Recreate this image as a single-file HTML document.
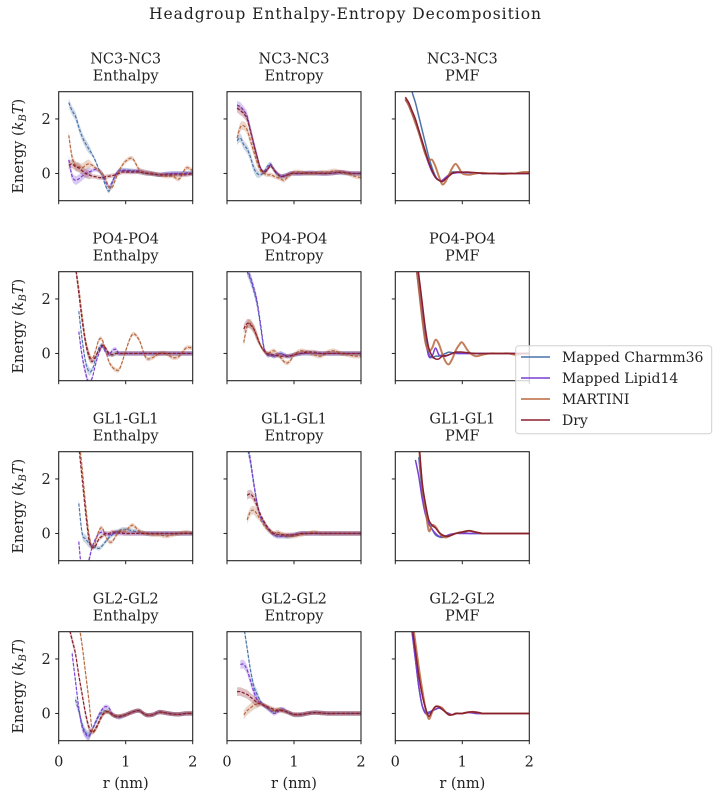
<!DOCTYPE html>
<html><head><meta charset="utf-8"><title>Headgroup Enthalpy-Entropy Decomposition</title>
<style>
html,body{margin:0;padding:0;background:#fff;}
svg{display:block;font-family:"DejaVu Serif","Liberation Serif",serif;}
</style></head>
<body>
<svg id="fig" width="722" height="799" viewBox="0 0 722 799" xmlns="http://www.w3.org/2000/svg">
<text x="345" y="19" text-anchor="middle" font-size="15.5" textLength="392" lengthAdjust="spacing" fill="#222">Headgroup Enthalpy-Entropy Decomposition</text>
</svg>
<script>
const n = null;
const R = [0.15,0.2,0.25,0.3,0.35,0.4,0.45,0.5,0.55,0.6,0.65,0.7,0.75,0.8,0.85,0.9,0.95,1.0,1.1,1.2,1.3,1.4,1.5,1.6,1.7,1.8,1.9,2.0];
const xTicks = [0,1,2];
const yTicks = [0,2];
const xTickLabels = ["0","1","2"];
const yTickLabels = ["0","2"];
const pairs = ["NC3-NC3","PO4-PO4","GL1-GL1","GL2-GL2"];
const kinds = ["Enthalpy","Entropy","PMF"];
const seriesNames = ["Mapped Charmm36","Mapped Lipid14","MARTINI","Dry"];

// NC3
const nc3H_C = [2.6,2.3,2.1,1.7,1.35,1.1,0.9,0.7,0.45,0.15,-0.1,-0.45,-0.65,-0.35,-0.05,0.1,0.12,0.12,0.1,0.05,0,-0.02,-0.05,-0.02,0,0,0.02,0];
const nc3H_L = [0.5,-0.1,-0.25,-0.2,-0.1,0,0.05,0.1,0.15,0.1,0,-0.3,-0.5,-0.3,-0.05,0.1,0.1,0.1,0.08,0.1,0.05,0,-0.05,-0.02,0,0,0,0];
const nc3H_M = [1.4,0.6,0.3,0.25,0.2,0.3,0.35,0.3,0.2,0.1,0,-0.2,-0.5,-0.5,-0.2,0.1,0.3,0.45,0.55,0.15,0.05,0,-0.05,-0.1,-0.1,-0.2,0.2,0.1];
const nc3H_D = [0.3,0.35,0.25,0.2,0.1,0,-0.05,-0.1,-0.12,-0.15,-0.15,-0.12,-0.1,-0.08,-0.05,0,0.05,0.05,0.05,0.05,0,-0.02,-0.05,-0.05,-0.05,-0.05,-0.05,0];
const nc3S_C = [1.2,1.3,1.05,0.9,0.6,0.2,0,-0.05,0.05,0.25,0.35,0.15,-0.05,-0.1,-0.08,-0.05,0,0,0,0,0,0,0,0.02,0.02,0,0,0];
const nc3S_L = [2.5,2.45,2.3,2.1,1.6,1.1,0.6,0.2,0.05,0.15,0.3,0.15,0,-0.1,-0.1,-0.05,0,0,0,0.02,0.02,0,0,0.02,0.05,0.02,0,0];
const nc3S_M = [1.3,1.7,1.75,1.6,1.2,0.8,0.4,0.1,0,-0.05,-0.05,-0.1,-0.15,-0.2,-0.25,-0.15,-0.05,0.05,0.05,0,0,0.05,0.05,0.1,0.05,0,-0.1,-0.15];
const nc3S_D = [2.4,2.3,2.2,2.0,1.55,1.05,0.6,0.2,0.05,0.12,0.28,0.12,0,-0.1,-0.1,-0.05,0,0,0,0.02,0.02,0,0,0.02,0.05,0.02,0,0];
const nc3P_C = [n,3.6,3.0,2.6,2.1,1.6,1.1,0.6,0.2,-0.1,-0.25,-0.3,-0.2,-0.05,0.05,0.05,0.05,0.05,0.03,0.02,0,0,0,0,0,0,0,0];
const nc3P_L = [2.7,2.5,2.2,1.9,1.5,1.1,0.7,0.35,0.05,-0.15,-0.25,-0.25,-0.15,-0.05,0,0.02,0.03,0.03,0.03,0.02,0,0,0,0,0,0,0,0];
const nc3P_M = [2.75,2.5,2.2,1.85,1.5,1.1,0.7,0.5,0.5,0.25,-0.1,-0.4,-0.3,-0.05,0.2,0.35,0.2,0,-0.05,0,0.02,0,0,-0.02,0,0,0.05,0.05];
const nc3P_D = [2.8,2.6,2.3,2.0,1.6,1.2,0.8,0.4,0.1,-0.15,-0.25,-0.3,-0.2,-0.1,0,0.05,0.05,0.05,0.05,0.03,0,0,0,0,0,0,0,0];
// PO4
const po4H_C = [n,n,n,1.55,0.5,-0.3,-0.65,-0.6,-0.2,0.2,0.3,0.1,0,-0.05,0,0,0,0,0,0,0,0,0,0,0,0,0,0];
const po4H_L = [n,n,n,0.8,-0.1,-0.7,-1.1,-0.9,-0.4,0,0.25,0.05,-0.05,0.1,0.15,0,0,0,0,0,0,0,0,0,0,0,0,0];
const po4H_M = [n,n,3.2,2.4,1.4,0.5,0,-0.2,0.1,0.5,0.5,0.1,-0.3,-0.5,-0.6,-0.6,-0.3,0.1,0.7,0.5,-0.15,-0.15,0,0,-0.15,-0.1,0.2,0.2];
const po4H_D = [n,n,3.2,2.2,1.2,0.4,-0.1,-0.3,-0.1,0.1,0.3,0.2,0,-0.05,0,0,0,0,0,0,0,0,0,0,0,0,0,0];
const po4S_C = [n,n,n,3.0,2.7,2.3,1.8,1.0,0.2,-0.05,-0.05,-0.1,-0.05,0,-0.05,-0.1,-0.1,-0.05,0,0,0,0,0,0,0,0,0,0];
const po4S_L = [n,n,n,3.1,2.8,2.4,1.9,1.1,0.25,-0.05,-0.05,-0.1,-0.05,0,-0.05,-0.1,-0.08,-0.05,0,0,0,0,0,0,0,0,0,0];
const po4S_M = [n,n,0.4,1.0,1.1,0.9,0.6,0.3,0.1,0,0.05,0.1,0,-0.15,-0.3,-0.35,-0.25,-0.05,0.1,0.05,-0.05,-0.1,0.05,0.1,0,-0.05,-0.1,-0.1];
const po4S_D = [n,n,0.9,1.1,1.05,0.9,0.6,0.3,0.1,0,-0.05,-0.05,-0.08,-0.1,-0.1,-0.1,-0.08,-0.05,0,0.05,0.05,0,0,0,0,0,0,0];
const po4P_C = [n,n,n,3.6,2.6,1.6,0.7,0,-0.15,-0.1,-0.1,-0.05,0,0.05,0.03,0.02,0,0,0,0,0,0,0,0,0,0,0,0];
const po4P_L = [n,n,n,3.4,2.4,1.4,0.5,-0.1,-0.1,0.2,-0.05,-0.1,-0.1,-0.05,0,0,0,0,0,0,0,0,0,0,0,0,0,0];
const po4P_M = [n,n,n,3.5,2.4,1.3,0.4,0.1,0.2,0.5,0.35,0,-0.3,-0.4,-0.2,0.1,0.3,0.4,0.05,-0.1,-0.05,0,0,0,0,-0.05,0,0];
const po4P_D = [n,n,n,3.8,2.9,1.9,0.9,0.2,-0.1,-0.2,-0.2,-0.1,-0.08,-0.05,0,0.05,0.05,0.05,0.02,0,0,0,0,0,0,0,0,0];
// GL1
const gl1H_C = [n,n,n,1.1,0,-0.2,-0.35,-0.5,-0.5,-0.55,-0.45,-0.3,-0.15,-0.05,0.05,0.1,0.15,0.15,0.1,0.05,0,0,0,0,0,0,0,0];
const gl1H_L = [n,n,n,-0.3,-1.5,-1.4,-1.0,-0.5,-0.2,0,0.05,0,-0.05,0,0,0,0,0,0,0,0,0,0,0,0,0,0,0];
const gl1H_M = [n,n,n,3.5,2.4,1.1,0,-0.5,-0.3,0.1,0.2,-0.1,-0.3,-0.3,-0.1,0.05,0.1,0.1,0.3,0.1,0,-0.05,-0.05,-0.1,-0.05,0,0.05,0];
const gl1H_D = [n,n,n,3.2,2,0.8,-0.2,-0.5,-0.45,-0.2,-0.1,0,0,0.05,0.05,0.05,0.02,0,0,0,0,0,0,0,0,0,0,0];
const gl1S_C = [n,n,n,3.2,2.6,1.8,1.1,0.6,0.4,0.2,0.05,-0.05,-0.1,-0.1,-0.1,-0.12,-0.1,-0.05,0,0,0,0,0,0,0,0,0,0];
const gl1S_L = [n,n,n,3.4,2.7,1.85,1.1,0.6,0.4,0.2,0.05,-0.05,-0.1,-0.1,-0.1,-0.08,-0.06,-0.05,0,0,0,0,0,0,0,0,0,0];
const gl1S_M = [n,n,n,0.5,0.8,0.85,0.7,0.5,0.3,0.15,0.05,0,0.05,0,-0.05,-0.1,-0.1,-0.1,-0.05,0,0.05,0,0,0,0,0,0,0];
const gl1S_D = [n,n,n,1.4,1.45,1.3,1.0,0.7,0.45,0.25,0.1,0,-0.03,-0.05,-0.05,-0.05,-0.05,-0.05,0,0,0,0,0,0,0,0,0,0];
const gl1P_C = [n,n,n,n,2.8,1.6,0.9,0.4,0.15,-0.05,-0.12,-0.15,-0.1,-0.05,-0.02,0,0.03,0.05,0,0,0,0,0,0,0,0,0,0];
const gl1P_L = [n,n,n,2.7,2.1,1.3,0.7,0.35,0.15,0,-0.1,-0.1,-0.1,-0.05,-0.02,0,0,0,0,0,0,0,0,0,0,0,0,0];
const gl1P_M = [n,n,n,n,3.3,1.8,0.9,0.1,0.3,0.25,0.05,-0.1,-0.15,-0.1,-0.05,0,0.03,0.05,0.1,0.05,0,0,0,0,0,0,0,0];
const gl1P_D = [n,n,n,n,3.5,1.9,1.1,0.5,0.3,0.2,0.05,-0.05,-0.1,-0.1,-0.05,0,0.03,0.05,0.1,0.05,0,0,0,0,0,0,0,0];
// GL2
const gl2H_C = [n,n,0.5,0.1,-0.4,-0.7,-0.8,-0.6,-0.35,-0.1,0.05,0.1,0.05,-0.05,-0.1,-0.12,-0.1,-0.05,0.05,0.1,-0.05,-0.05,0.05,0.02,-0.02,-0.03,0,0];
const gl2H_L = [n,2.2,1.2,0.2,-0.5,-0.75,-0.85,-0.6,-0.3,-0.05,0.15,0.25,0.2,0,-0.1,-0.15,-0.1,-0.05,0.05,0.1,-0.05,-0.05,0.05,0.02,-0.02,-0.03,0,0];
const gl2H_M = [n,n,n,3.3,2.5,1.5,0.5,-0.6,-0.6,-0.35,-0.1,0.05,0.05,-0.05,-0.1,-0.1,-0.08,-0.05,0.05,0.1,-0.05,-0.05,0.05,0.02,-0.02,-0.03,0,0];
const gl2H_D = [3.2,2.7,2.2,1.4,0.7,0,-0.5,-0.7,-0.55,-0.3,-0.05,0.05,0.05,-0.05,-0.1,-0.1,-0.08,-0.05,0.05,0.1,-0.05,-0.05,0.05,0.02,-0.02,-0.03,0,0];
const gl2S_C = [n,n,3.2,2.4,1.6,1.0,0.7,0.45,0.3,0.2,0.1,0.05,0.1,0.15,0.1,0.05,0,-0.05,-0.05,0,0.03,0.02,0,0,0,0,0,0];
const gl2S_L = [n,1.8,1.8,1.6,1.2,0.8,0.5,0.4,0.3,0.2,0.1,0,0.05,0.15,0.15,0.05,0,-0.05,-0.05,0,0.03,0.02,0,0,0,0,0,0];
const gl2S_M = [n,n,-0.05,0.1,0.2,0.3,0.35,0.35,0.3,0.25,0.15,0.1,0.15,0.15,0.1,0.05,0,-0.05,-0.05,0,0.03,0.02,0,0,0,0,0,0];
const gl2S_D = [0.8,0.8,0.75,0.7,0.6,0.5,0.4,0.35,0.3,0.25,0.2,0.15,0.1,0.1,0.08,0.05,0,-0.03,-0.03,0,0.03,0.02,0,0,0,0,0,0];
const gl2P_C = [n,n,3.0,2.0,1.0,0.3,0.05,0.05,0.1,0.15,0.2,0.15,0.05,0,-0.05,0,0,0,0.05,0,0,0,0,0,0,0,0,0];
const gl2P_L = [n,n,3.0,2.0,1.0,0.3,0.0,0.0,0.1,0.15,0.2,0.15,0.05,0,-0.05,-0.02,0,0,0.03,0,0,0,0,0,0,0,0,0];
const gl2P_M = [n,n,3.5,2.6,1.7,0.9,0.2,-0.2,0.05,0.25,0.25,0.2,0.05,-0.05,-0.05,0,0,0,0.05,0.05,0,0,0,0,0,0,0,0];
const gl2P_D = [n,n,3.2,2.3,1.4,0.7,0.2,-0.1,0.1,0.25,0.25,0.15,0.05,-0.05,-0.05,0,0,0,0.05,0.05,0,0,0,0,0,0,0,0];

const panelData = [
  [[nc3H_C,nc3H_L,nc3H_M,nc3H_D],[nc3S_C,nc3S_L,nc3S_M,nc3S_D],[nc3P_C,nc3P_L,nc3P_M,nc3P_D]],
  [[po4H_C,po4H_L,po4H_M,po4H_D],[po4S_C,po4S_L,po4S_M,po4S_D],[po4P_C,po4P_L,po4P_M,po4P_D]],
  [[gl1H_C,gl1H_L,gl1H_M,gl1H_D],[gl1S_C,gl1S_L,gl1S_M,gl1S_D],[gl1P_C,gl1P_L,gl1P_M,gl1P_D]],
  [[gl2H_C,gl2H_L,gl2H_M,gl2H_D],[gl2S_C,gl2S_L,gl2S_M,gl2S_D],[gl2P_C,gl2P_L,gl2P_M,gl2P_D]]
];

const colors = ["#4a74aa","#7a3fd4","#b8693f","#8a1f2e"];
const NS = "http://www.w3.org/2000/svg";
const svg = document.getElementById("fig");
const lefts = [58.7,227,395.3], tops = [91.7,271.7,451.7,631.7];
const PW = 134, PH = 109, XMIN = 0, XMAX = 2, YMIN = -1, YMAX = 3;

function mk(tag, attrs, parent){ const e = document.createElementNS(NS, tag); for (const k in attrs) e.setAttribute(k, attrs[k]); (parent||svg).appendChild(e); return e; }
function smooth(pts){
  if (pts.length < 2) return "";
  let d = "M" + pts[0][0].toFixed(2) + "," + pts[0][1].toFixed(2);
  for (let i = 0; i < pts.length - 1; i++) {
    const p0 = pts[Math.max(i-1,0)], p1 = pts[i], p2 = pts[i+1], p3 = pts[Math.min(i+2,pts.length-1)];
    const c1 = [p1[0]+(p2[0]-p0[0])/6, p1[1]+(p2[1]-p0[1])/6];
    const c2 = [p2[0]-(p3[0]-p1[0])/6, p2[1]-(p3[1]-p1[1])/6];
    d += "C" + c1[0].toFixed(2)+","+c1[1].toFixed(2)+" "+c2[0].toFixed(2)+","+c2[1].toFixed(2)+" "+p2[0].toFixed(2)+","+p2[1].toFixed(2);
  }
  return d;
}

const defs = mk("defs", {});
for (let row = 0; row < 4; row++) {
  for (let col = 0; col < 3; col++) {
    const L = lefts[col], T = tops[row];
    const xs = r => L + (r - XMIN) / (XMAX - XMIN) * PW;
    const ys = v => T + (YMAX - v) / (YMAX - YMIN) * PH;
    const g = mk("g", {});
    
    
    const cid = "clip" + row + col;
    const cp = mk("clipPath", {id: cid}, defs);
    mk("rect", {x: L, y: T, width: PW, height: PH}, cp);
    // titles
    const t1 = mk("text", {x: L + PW/2, y: T - 28, "text-anchor": "middle", "font-size": 14.5, fill: "#222"}, g);
    t1.textContent = pairs[row];
    
    
    const t2 = mk("text", {x: L + PW/2, y: T - 11, "text-anchor": "middle", "font-size": 14.5, fill: "#222"}, g);
    t2.textContent = kinds[col];
    
    
    // series
    const sg = mk("g", {"clip-path": "url(#" + cid + ")"}, g);
    const isPMF = col === 2;
    panelData[row][col].forEach((vals, si) => {
      const pts = [];
      vals.forEach((v, i) => { if (v !== null) pts.push([xs(R[i]), ys(v)]); });
      if (!isPMF) {
        const up = [], dn = [];
        vals.forEach((v, i) => { if (v !== null) { const w = 0.06 + (R[i] < 0.5 ? 0.1 : 0.02); up.push([xs(R[i]), ys(v + w)]); dn.push([xs(R[i]), ys(v - w)]); } });
        const band = mk("path", {d: smooth(up) + smooth(dn.reverse()).replace("M","L") + "Z", fill: colors[si], "fill-opacity": 0.28, stroke: "none"}, sg);
        
        
      }
      const p = mk("path", {d: smooth(pts), fill: "none", stroke: colors[si], "stroke-width": isPMF ? (si===2?2:1.5) : 1.2, "stroke-opacity": (isPMF && si===2) ? 0.85 : 1, "stroke-dasharray": isPMF ? "none" : "3.2,1.6"}, sg);
      
      
    });
    // frame
    const fr = mk("rect", {x: L, y: T, width: PW, height: PH, fill: "none", stroke: "#222", "stroke-width": 1.1}, g);
    
    
    // ticks
    yTicks.forEach((v, i) => {
      mk("line", {x1: L - 3.5, x2: L, y1: ys(v), y2: ys(v), stroke: "#222", "stroke-width": 1}, g);
      if (col === 0) {
        const tl = mk("text", {x: L - 8, y: ys(v) + 5, "text-anchor": "end", "font-size": 14.5, fill: "#222"}, g);
        tl.textContent = yTickLabels[i];
        
        
      }
    });
    xTicks.forEach((v, i) => {
      mk("line", {x1: xs(v), x2: xs(v), y1: T + PH, y2: T + PH + 3.5, stroke: "#222", "stroke-width": 1}, g);
      if (row === 3) {
        const tl = mk("text", {x: xs(v), y: T + PH + 26, "text-anchor": "middle", "font-size": 14.5, fill: "#222"}, g);
        tl.textContent = xTickLabels[i];
        
        
      }
    });
    if (row === 3) {
      const xl = mk("text", {x: L + PW/2, y: 788, "text-anchor": "middle", "font-size": 14.5, fill: "#222"}, g);
      xl.textContent = "r (nm)";
      
      
    }
    if (col === 0) {
      const cy = T + PH/2;
      const yl = mk("text", {x: 0, y: 0, transform: "translate(23," + cy + ") rotate(-90)", "text-anchor": "middle", "font-size": 14.5, fill: "#222"}, g);
      yl.innerHTML = 'Energy (<tspan font-style="italic">k</tspan><tspan font-style="italic" font-size="10" dy="3">B</tspan><tspan font-style="italic" dy="-3">T</tspan>)';
      
      
    }
  }
}

// legend
const lg = mk("g", {});


mk("rect", {x: 515.7, y: 345.7, width: 196, height: 88, rx: 3, fill: "#fff", "fill-opacity": 0.8, stroke: "#d0d0d0", "stroke-width": 1}, lg);
seriesNames.forEach((name, i) => {
  const y = 357 + i * 21;
  const e = mk("g", {}, lg);
  
  
  mk("line", {x1: 521, x2: 550, y1: y, y2: y, stroke: colors[i], "stroke-width": 1.5}, e);
  const t = mk("text", {x: 562, y: y + 5, "font-size": 14, fill: "#222"}, e);
  t.textContent = name;
});
</script>
</body></html>
